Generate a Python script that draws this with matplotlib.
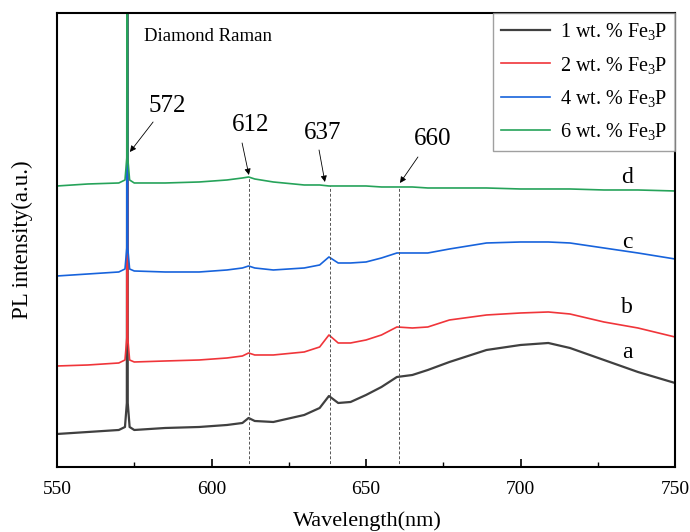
import matplotlib
matplotlib.use("Agg")
import matplotlib.pyplot as plt

plt.rcParams['font.family'] = 'serif'
plt.rcParams['font.serif'] = ['Liberation Serif', 'DejaVu Serif']
plt.rcParams['mathtext.fontset'] = 'custom'
plt.rcParams['mathtext.rm'] = 'Liberation Serif'
plt.rcParams['mathtext.it'] = 'Liberation Serif:italic'

# Wavelength grid (nm)
wl = [550, 560, 570, 572.0, 572.6, 572.75, 572.9, 573.5, 575, 585, 596, 605, 610,
      612, 614, 620, 630, 635, 638, 641, 645, 650, 655, 660, 665, 670, 677, 689,
      700, 709, 716, 727, 738, 750]

# PL intensity (a.u.), offset curves a-d
pl_a = [49, 51, 53, 56, 80, 600, 80, 56, 53, 55, 56, 58, 60,
        65, 62, 61, 68, 75, 87, 80, 81, 88, 96, 106, 108, 113, 121, 133,
        138, 140, 135, 123, 111, 100]
pl_b = [117, 118, 120, 123, 145, 600, 145, 123, 121, 122, 123, 125, 127,
        130, 128, 128, 131, 136, 148, 140, 140, 143, 148, 156, 155, 156, 163, 168,
        170, 171, 169, 161, 155, 146]
pl_c = [207, 209, 211, 214, 235, 600, 235, 214, 212, 211, 211, 213, 215,
        217, 215, 213, 215, 218, 226, 220, 220, 221, 225, 230, 230, 230, 234, 240,
        241, 241, 240, 235, 230, 224]
pl_d = [297, 299, 300, 303, 325, 700, 325, 303, 300, 300, 301, 303, 305,
        306, 304, 301, 298, 298, 297, 297, 297, 297, 296, 296, 296, 295, 295, 295,
        294, 294, 294, 293, 293, 292]

labels = ['1 wt. % Fe$_3$P', '2 wt. % Fe$_3$P', '4 wt. % Fe$_3$P', '6 wt. % Fe$_3$P']
colors = ['#404040', '#f0353a', '#1763dc', '#26a35a']
curve_tags = ['a', 'b', 'c', 'd']
tag_y = [130, 175, 240, 305]

peaks = [612, 638.3, 660.7]
peak_top = [306, 297, 296]

fig = plt.figure(figsize=(6.9, 5.32), dpi=100)
ax = fig.add_axes([0.0826, 0.1222, 0.8957, 0.8534])

for y, c, lab, lw in zip([pl_a, pl_b, pl_c, pl_d], colors, labels, [1.6, 1.2, 1.2, 1.2]):
    ax.plot(wl, y, color=c, lw=lw, label=lab)

ax.vlines(peaks, 0, peak_top, colors='#555555', linestyles=(0, (3, 2)), lw=0.7)

for t, ty in zip(curve_tags, tag_y):
    ax.text(734.5, ty, t, fontsize=17, ha='center', va='center')

ax.text(578.2, 446, 'Diamond Raman', fontsize=13.5, ha='left', va='center')

arrows = [('572', (585.6, 377), (581.1, 361), (573.6, 331)),
          ('612', (612.5, 358), (609.9, 340), (612.1, 308)),
          ('637', (635.8, 350), (634.8, 333), (636.7, 301)),
          ('660', (671.4, 344), (666.8, 326), (661.0, 300))]
for txt, tpos, tail, head in arrows:
    ax.text(tpos[0], tpos[1], txt, fontsize=18, ha='center', va='center')
    ax.annotate('', xy=head, xytext=tail,
                arrowprops=dict(arrowstyle='-|>', color='black', lw=0.6,
                                mutation_scale=9, shrinkA=0, shrinkB=0))

ax.set_xlim(550, 750)
ax.set_ylim(16, 470)
ax.set_xticks([550, 600, 650, 700, 750])
ax.set_xticks([575, 625, 675, 725], minor=True)
ax.set_yticks([])
ax.tick_params(axis='x', which='major', direction='in', length=6, width=1.2, labelsize=14, pad=10)
ax.tick_params(axis='x', which='minor', direction='in', length=3.5, width=1.0)
for s in ax.spines.values():
    s.set_linewidth(1.5)

ax.set_xlabel('Wavelength(nm)', fontsize=16)
ax.set_ylabel('PL intensity(a.u.)', fontsize=16.5)
ax.xaxis.set_label_coords(0.502, -0.097)
ax.yaxis.set_label_coords(-0.039, 0.5)

leg = ax.legend(loc='upper right', fontsize=14.5, frameon=True, fancybox=False,
                borderaxespad=0, handlelength=2.4, labelspacing=0.62, borderpad=0.4,
                handletextpad=0.5)
leg.get_frame().set_edgecolor('#888888')
leg.get_frame().set_linewidth(1.0)

plt.savefig('out.png', dpi=100)
